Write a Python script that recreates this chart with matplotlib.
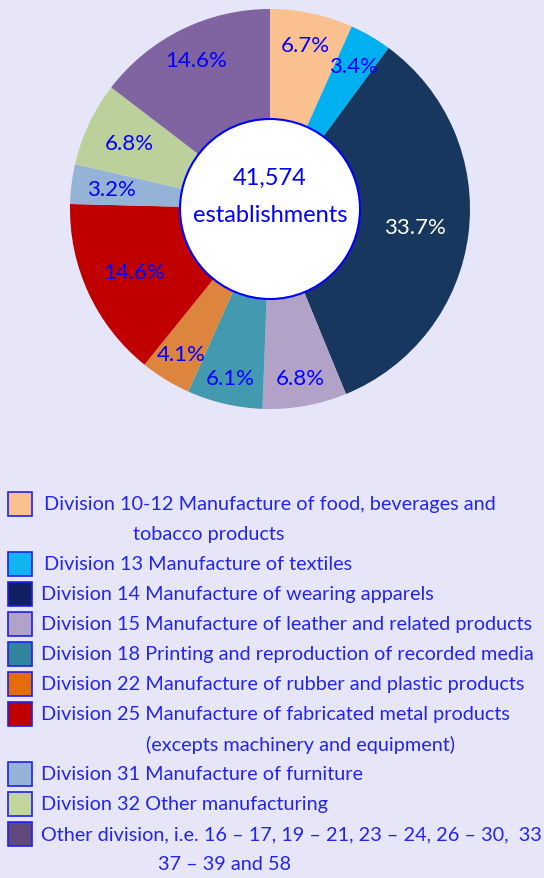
import numpy as np
import matplotlib
import matplotlib.pyplot as plt
from matplotlib.patches import Rectangle, Circle

matplotlib.rcParams['font.family'] = ['Lato', 'DejaVu Sans']

# data
shares = [6.7, 3.4, 33.7, 6.8, 6.1, 4.1, 14.6, 3.2, 6.8, 14.6]
pie_colors = ['#FAC090', '#00B0F0', '#17375E', '#B3A2C7', '#4399B0',
              '#DD843E', '#C00000', '#95B3D7', '#BBD09A', '#8064A2']
legend_colors = ['#FAC090', '#10B4F0', '#0F1F5F', '#B3A2C7', '#31859C',
                 '#E46C0A', '#C00000', '#95B3D7', '#C3D69B', '#604A7B']
legend_lines = [
    ['Division 10-12 Manufacture of food, beverages and', 'tobacco products'],
    ['Division 13 Manufacture of textiles'],
    ['Division 14 Manufacture of wearing apparels'],
    ['Division 15 Manufacture of leather and related products'],
    ['Division 18 Printing and reproduction of recorded media'],
    ['Division 22 Manufacture of rubber and plastic products'],
    ['Division 25 Manufacture of fabricated metal products', '(excepts machinery and equipment)'],
    ['Division 31 Manufacture of furniture'],
    ['Division 32 Other manufacturing'],
    ['Other division, i.e. 16 \u2013 17, 19 \u2013 21, 23 \u2013 24, 26 \u2013 30,  33', '37 \u2013 39 and 58'],
]
total_text = '41,574'

bg = '#E6E6F8'
blue = '#0000FF'
W, H = 544, 879

fig = plt.figure(figsize=(W / 100, H / 100), dpi=100, facecolor=bg)

# pie axes
cx, cy, R = 270, 210, 200
ax = fig.add_axes([(cx - R) / W, 1 - (cy + R) / H, 2 * R / W, 2 * R / H])
ax.set_facecolor(bg)
wedges, _ = ax.pie(shares, colors=pie_colors, startangle=90, counterclock=False,
                   wedgeprops=dict(linewidth=0))
ax.set_xlim(-1, 1)
ax.set_ylim(-1, 1)
ax.set_aspect('equal')
ax.axis('off')

# percentage labels
label_r = [0.84, 0.83, 0.73, 0.86, 0.87, 0.85, 0.75, 0.80, 0.78, 0.83]
for w, v, r in zip(wedges, shares, label_r):
    a = np.deg2rad((w.theta1 + w.theta2) / 2)
    col = 'white' if v > 30 else blue
    ax.text(r * np.cos(a), r * np.sin(a), '%.1f%%' % v, color=col,
            fontsize=16, ha='center', va='center')

ax.add_patch(Circle((0, 0), 0.45, facecolor='white', edgecolor=blue, linewidth=1.5, zorder=5))
ax.text(0, 0.16, total_text, color=blue, fontsize=17, ha='center', va='center', zorder=6)
ax.text(0, -0.03, 'establishments', color=blue, fontsize=17, ha='center', va='center', zorder=6)

# legend drawn in pixel coordinates
lax = fig.add_axes([0, 0, 1, 1], facecolor='none')
lax.set_xlim(0, W)
lax.set_ylim(H, 0)
lax.axis('off')

cont_x = {'tobacco products': 209, '(excepts machinery and equipment)': 300,
          '37 \u2013 39 and 58': 225}
y = 505
text_col = '#2424F0'
for i, (col, lines) in enumerate(zip(legend_colors, legend_lines)):
    lax.add_patch(Rectangle((8, y - 12), 24, 24, facecolor=col, edgecolor='#2020F0', linewidth=1.2))
    x0 = 44 if i < 2 else 41
    lax.text(x0, y, lines[0], color=text_col, fontsize=14.3, va='center', ha='left')
    for extra in lines[1:]:
        y += 30
        lax.text(cont_x[extra], y, extra, color=text_col,
                 fontsize=14.3, va='center', ha='center')
    y += 30

plt.savefig('out.png', dpi=100, facecolor=bg)
